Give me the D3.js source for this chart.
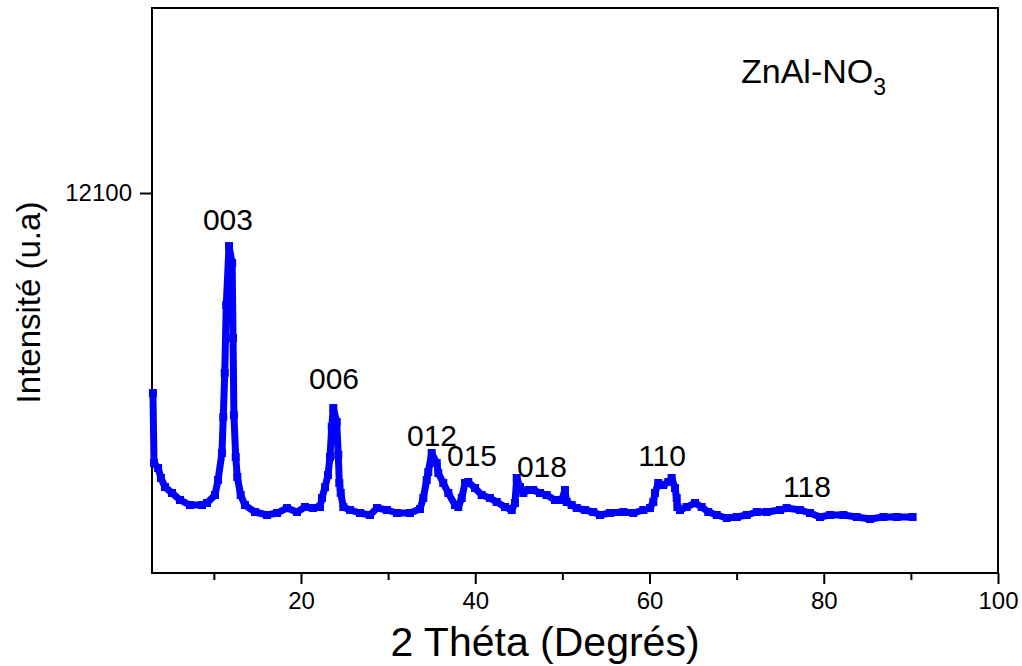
<!DOCTYPE html>
<html>
<head>
<meta charset="utf-8">
<script src="https://cdn.jsdelivr.net/npm/d3@7"></script>
<style>
  html, body { margin: 0; padding: 0; background: #fff; }
  svg { display: block; font-family: "Liberation Sans", Arial, sans-serif; }
</style>
</head>
<body>
<svg id="chart" width="1022" height="666"></svg>
<script>
// Diffractogram of ZnAl-NO3 (2θ in degrees, intensity in arbitrary units)
const twoTheta = [
  3.01, 3.13, 3.6, 3.93, 4.39, 5.2, 6.11, 7.26, 8.64, 9.21,
  10.13, 10.48, 10.93, 11.08, 11.25, 11.42, 11.74, 12.1, 12.2, 12.3,
  12.51, 12.69, 13.08, 13.57, 14.72, 16.1, 17.25, 18.39, 19.54, 20.46,
  21.38, 22.18, 22.41, 22.76, 23.1, 23.33, 23.53, 23.71, 24.1, 24.28,
  24.4, 24.56, 24.86, 25.63, 26.77, 27.92, 28.73, 29.87, 31.02, 32.51,
  33.66, 34.04, 34.43, 34.61, 35.0, 35.58, 35.76, 36.33, 36.91, 37.68,
  38.06, 38.45, 38.83, 39.2, 39.97, 40.74, 41.69, 42.46, 43.42, 44.19,
  44.56, 44.76, 45.14, 45.52, 46.09, 46.66, 47.43, 48.2, 49.15, 49.92,
  50.3, 50.5, 51.07, 51.65, 52.6, 53.55, 54.32, 55.47, 57.0, 58.14,
  59.29, 60.06, 60.44, 60.63, 61.01, 61.59, 62.16, 62.55, 62.93, 63.12,
  63.2, 63.5, 64.27, 65.22, 65.99, 66.75, 67.72, 68.86, 70.01, 71.16,
  72.31, 73.45, 74.98, 75.75, 77.28, 78.42, 79.57, 80.72, 82.25, 83.78,
  85.31, 86.84, 88.38, 90.2
];
const intensity = [
  8889, 7766, 7685, 7525, 7380, 7284, 7172, 7091, 7091, 7124,
  7252, 7493, 7926, 8504, 9210, 10301, 11248, 10976, 9772, 8536,
  7862, 7541, 7252, 7091, 6979, 6931, 6963, 7043, 6979, 7059,
  7043, 7059, 7204, 7380, 7573, 7862, 8343, 8648, 8424, 7894,
  7445, 7284, 7059, 7011, 6963, 6931, 7043, 7011, 6963, 6963,
  7027, 7204, 7493, 7621, 7926, 7766, 7605, 7445, 7284, 7091,
  7059, 7204, 7445, 7461, 7364, 7252, 7204, 7140, 7059, 7011,
  7124, 7525, 7380, 7284, 7332, 7332, 7284, 7252, 7172, 7172,
  7332, 7140, 7091, 7043, 7011, 6979, 6931, 6963, 6979, 6963,
  7011, 7043, 7140, 7284, 7445, 7412, 7461, 7525, 7364, 7204,
  7059, 7011, 7059, 7124, 7059, 6979, 6931, 6883, 6899, 6931,
  6979, 6979, 7011, 7043, 7011, 6963, 6899, 6931, 6931, 6899,
  6867, 6899, 6899, 6899
];

// Miller indices of the reflections and where their labels sit
const peakLabels = ["003", "006", "012", "015", "018", "110", "118"];
const peakLabelTheta = [11.62, 23.79, 35.04, 39.63, 47.66, 61.44, 78.08];
const peakLabelIntensity = [11505, 8953, 8038, 7717, 7541, 7717, 7220];

const xMajorTicks = [20, 40, 60, 80, 100];
const xMinorTicks = [10, 30, 50, 70, 90];
const yTicks = [12100];

const svg = d3.select("#chart");
const plotLeft = 152, plotRight = 998, plotTop = 8, plotBottom = 573;

const x = d3.scaleLinear().domain([2.9, 100]).range([plotLeft, plotRight]);
const y = d3.scaleLinear().domain([6000, 15070]).range([plotBottom, plotTop]);

const blue = "#0000ff";
const points = twoTheta.map((t, i) => [t, intensity[i]]);

// frame: top and right borders
svg.append("path")
  .attr("d", `M${plotLeft},${plotTop}H${plotRight}V${plotBottom}`)
  .attr("fill", "none").attr("stroke", "#000").attr("stroke-width", 2);

// bottom axis with major and minor ticks
const xAxis = svg.append("g").attr("transform", `translate(0,${plotBottom})`);
xAxis.append("g")
  .call(d3.axisBottom(x).tickValues(xMinorTicks).tickSize(7).tickFormat(""))
  .call(g => g.select(".domain").remove());
xAxis.append("g")
  .call(d3.axisBottom(x).tickValues(xMajorTicks).tickSize(11).tickPadding(8).tickFormat(d3.format("d")))
  .call(g => g.select(".domain").remove());
xAxis.selectAll("line").attr("stroke", "#000").attr("stroke-width", 2);
xAxis.selectAll("text").attr("font-size", 24).attr("fill", "#000")
  .attr("font-family", "'Liberation Sans', Arial, sans-serif");
xAxis.append("line").attr("x1", plotLeft - 1).attr("x2", plotRight + 1)
  .attr("stroke", "#000").attr("stroke-width", 2);

// left axis
const yAxis = svg.append("g").attr("transform", `translate(${plotLeft},0)`);
yAxis.call(d3.axisLeft(y).tickValues(yTicks).tickSize(12).tickPadding(8).tickFormat(d3.format("d")))
  .call(g => g.select(".domain").remove());
yAxis.selectAll("line").attr("stroke", "#000").attr("stroke-width", 2);
yAxis.selectAll("text").attr("font-size", 24).attr("fill", "#000")
  .attr("font-family", "'Liberation Sans', Arial, sans-serif");
yAxis.append("line").attr("y1", plotTop - 1).attr("y2", plotBottom + 1)
  .attr("stroke", "#000").attr("stroke-width", 2);

// diffraction pattern: thick line with square markers
const line = d3.line().x(d => x(d[0])).y(d => y(d[1]));
svg.append("path").datum(points)
  .attr("d", line)
  .attr("fill", "none").attr("stroke", blue)
  .attr("stroke-width", 7).attr("stroke-linejoin", "round");

const ms = 8;
svg.append("g").selectAll("rect").data(points).join("rect")
  .attr("x", d => x(d[0]) - ms / 2)
  .attr("y", d => y(d[1]) - ms / 2)
  .attr("width", ms).attr("height", ms)
  .attr("fill", blue);

// reflection labels
svg.append("g").selectAll("text").data(peakLabels).join("text")
  .attr("x", (d, i) => x(peakLabelTheta[i]))
  .attr("y", (d, i) => y(peakLabelIntensity[i]))
  .attr("text-anchor", "middle")
  .attr("font-size", 30).attr("fill", "#000")
  .text(d => d);

// sample name
const title = svg.append("text")
  .attr("x", 741).attr("y", 83)
  .attr("font-size", 34).attr("fill", "#000");
title.append("tspan").text("ZnAl-NO");
title.append("tspan").attr("font-size", 23).attr("dy", 12).text("3");

// axis titles
svg.append("text")
  .attr("x", 545).attr("y", 656)
  .attr("text-anchor", "middle")
  .attr("font-size", 41).attr("fill", "#000")
  .text("2 Théta (Degrés)");

svg.append("text")
  .attr("transform", `translate(40,${(plotTop + plotBottom) / 2 + 12}) rotate(-90)`)
  .attr("text-anchor", "middle")
  .attr("font-size", 33).attr("fill", "#000")
  .text("Intensité (u.a)");
</script>
</body>
</html>
